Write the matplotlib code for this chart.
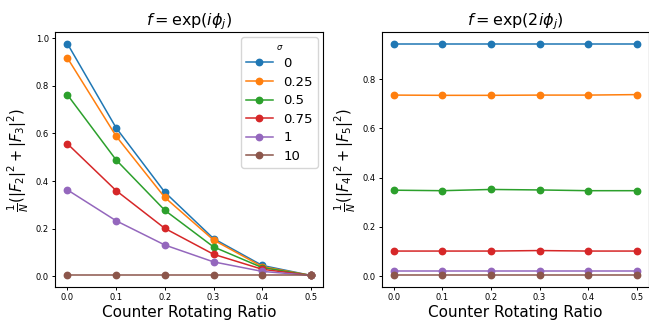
import numpy as np
import matplotlib
matplotlib.use("Agg")
import matplotlib.pyplot as plt

ratio = [0.0, 0.1, 0.2, 0.3, 0.4, 0.5]
sigmas = ["0", "0.25", "0.5", "0.75", "1", "10"]

# 1/N (|F2|^2 + |F3|^2), one row per sigma
f23 = [
    [0.978, 0.624, 0.353, 0.158, 0.045, 0.003],
    [0.918, 0.589, 0.331, 0.152, 0.040, 0.003],
    [0.763, 0.489, 0.277, 0.123, 0.036, 0.003],
    [0.557, 0.360, 0.201, 0.092, 0.029, 0.003],
    [0.363, 0.233, 0.131, 0.060, 0.020, 0.003],
    [0.003, 0.003, 0.003, 0.003, 0.003, 0.003],
]

# 1/N (|F4|^2 + |F5|^2)
f45 = [
    [0.944, 0.944, 0.944, 0.944, 0.944, 0.944],
    [0.735, 0.734, 0.734, 0.735, 0.735, 0.737],
    [0.349, 0.347, 0.352, 0.350, 0.347, 0.347],
    [0.102, 0.102, 0.102, 0.104, 0.102, 0.102],
    [0.021, 0.021, 0.021, 0.021, 0.021, 0.021],
    [0.003, 0.003, 0.003, 0.003, 0.003, 0.003],
]

fig = plt.figure(figsize=(6.49, 3.2), dpi=100)
ax1 = fig.add_axes([0.085, 0.103, 0.413, 0.797])
ax2 = fig.add_axes([0.588, 0.103, 0.412, 0.797])

for i, s in enumerate(sigmas):
    ax1.plot(ratio, f23[i], marker='o', markersize=4.6, linewidth=1.1, label=s)
    ax2.plot(ratio, f45[i], marker='o', markersize=4.6, linewidth=1.1, label=s)

ax1.set_title(r'$f = \exp(i\phi_j)$', fontsize=11.5, pad=5)
ax2.set_title(r'$f = \exp(2i\phi_j)$', fontsize=11.5, pad=5)
ax1.set_ylabel(r'$\frac{1}{N}(|F_2|^2 + |F_3|^2)$', fontsize=10.5, labelpad=3)
ax2.set_ylabel(r'$\frac{1}{N}(|F_4|^2 + |F_5|^2)$', fontsize=10.5, labelpad=3)

for ax in (ax1, ax2):
    ax.set_xlabel('Counter Rotating Ratio', fontsize=11, labelpad=2)
    ax.set_xticks(ratio)
    ax.tick_params(labelsize=6, length=2.5, width=0.7, pad=2)
    for sp in ax.spines.values():
        sp.set_linewidth(0.8)

leg = ax1.legend(title=r'$\sigma$', fontsize=9.5, title_fontsize=6,
                 loc='upper right', borderaxespad=0.4, handlelength=2.0,
                 labelspacing=0.42)

fig.savefig('out.png', dpi=100)
